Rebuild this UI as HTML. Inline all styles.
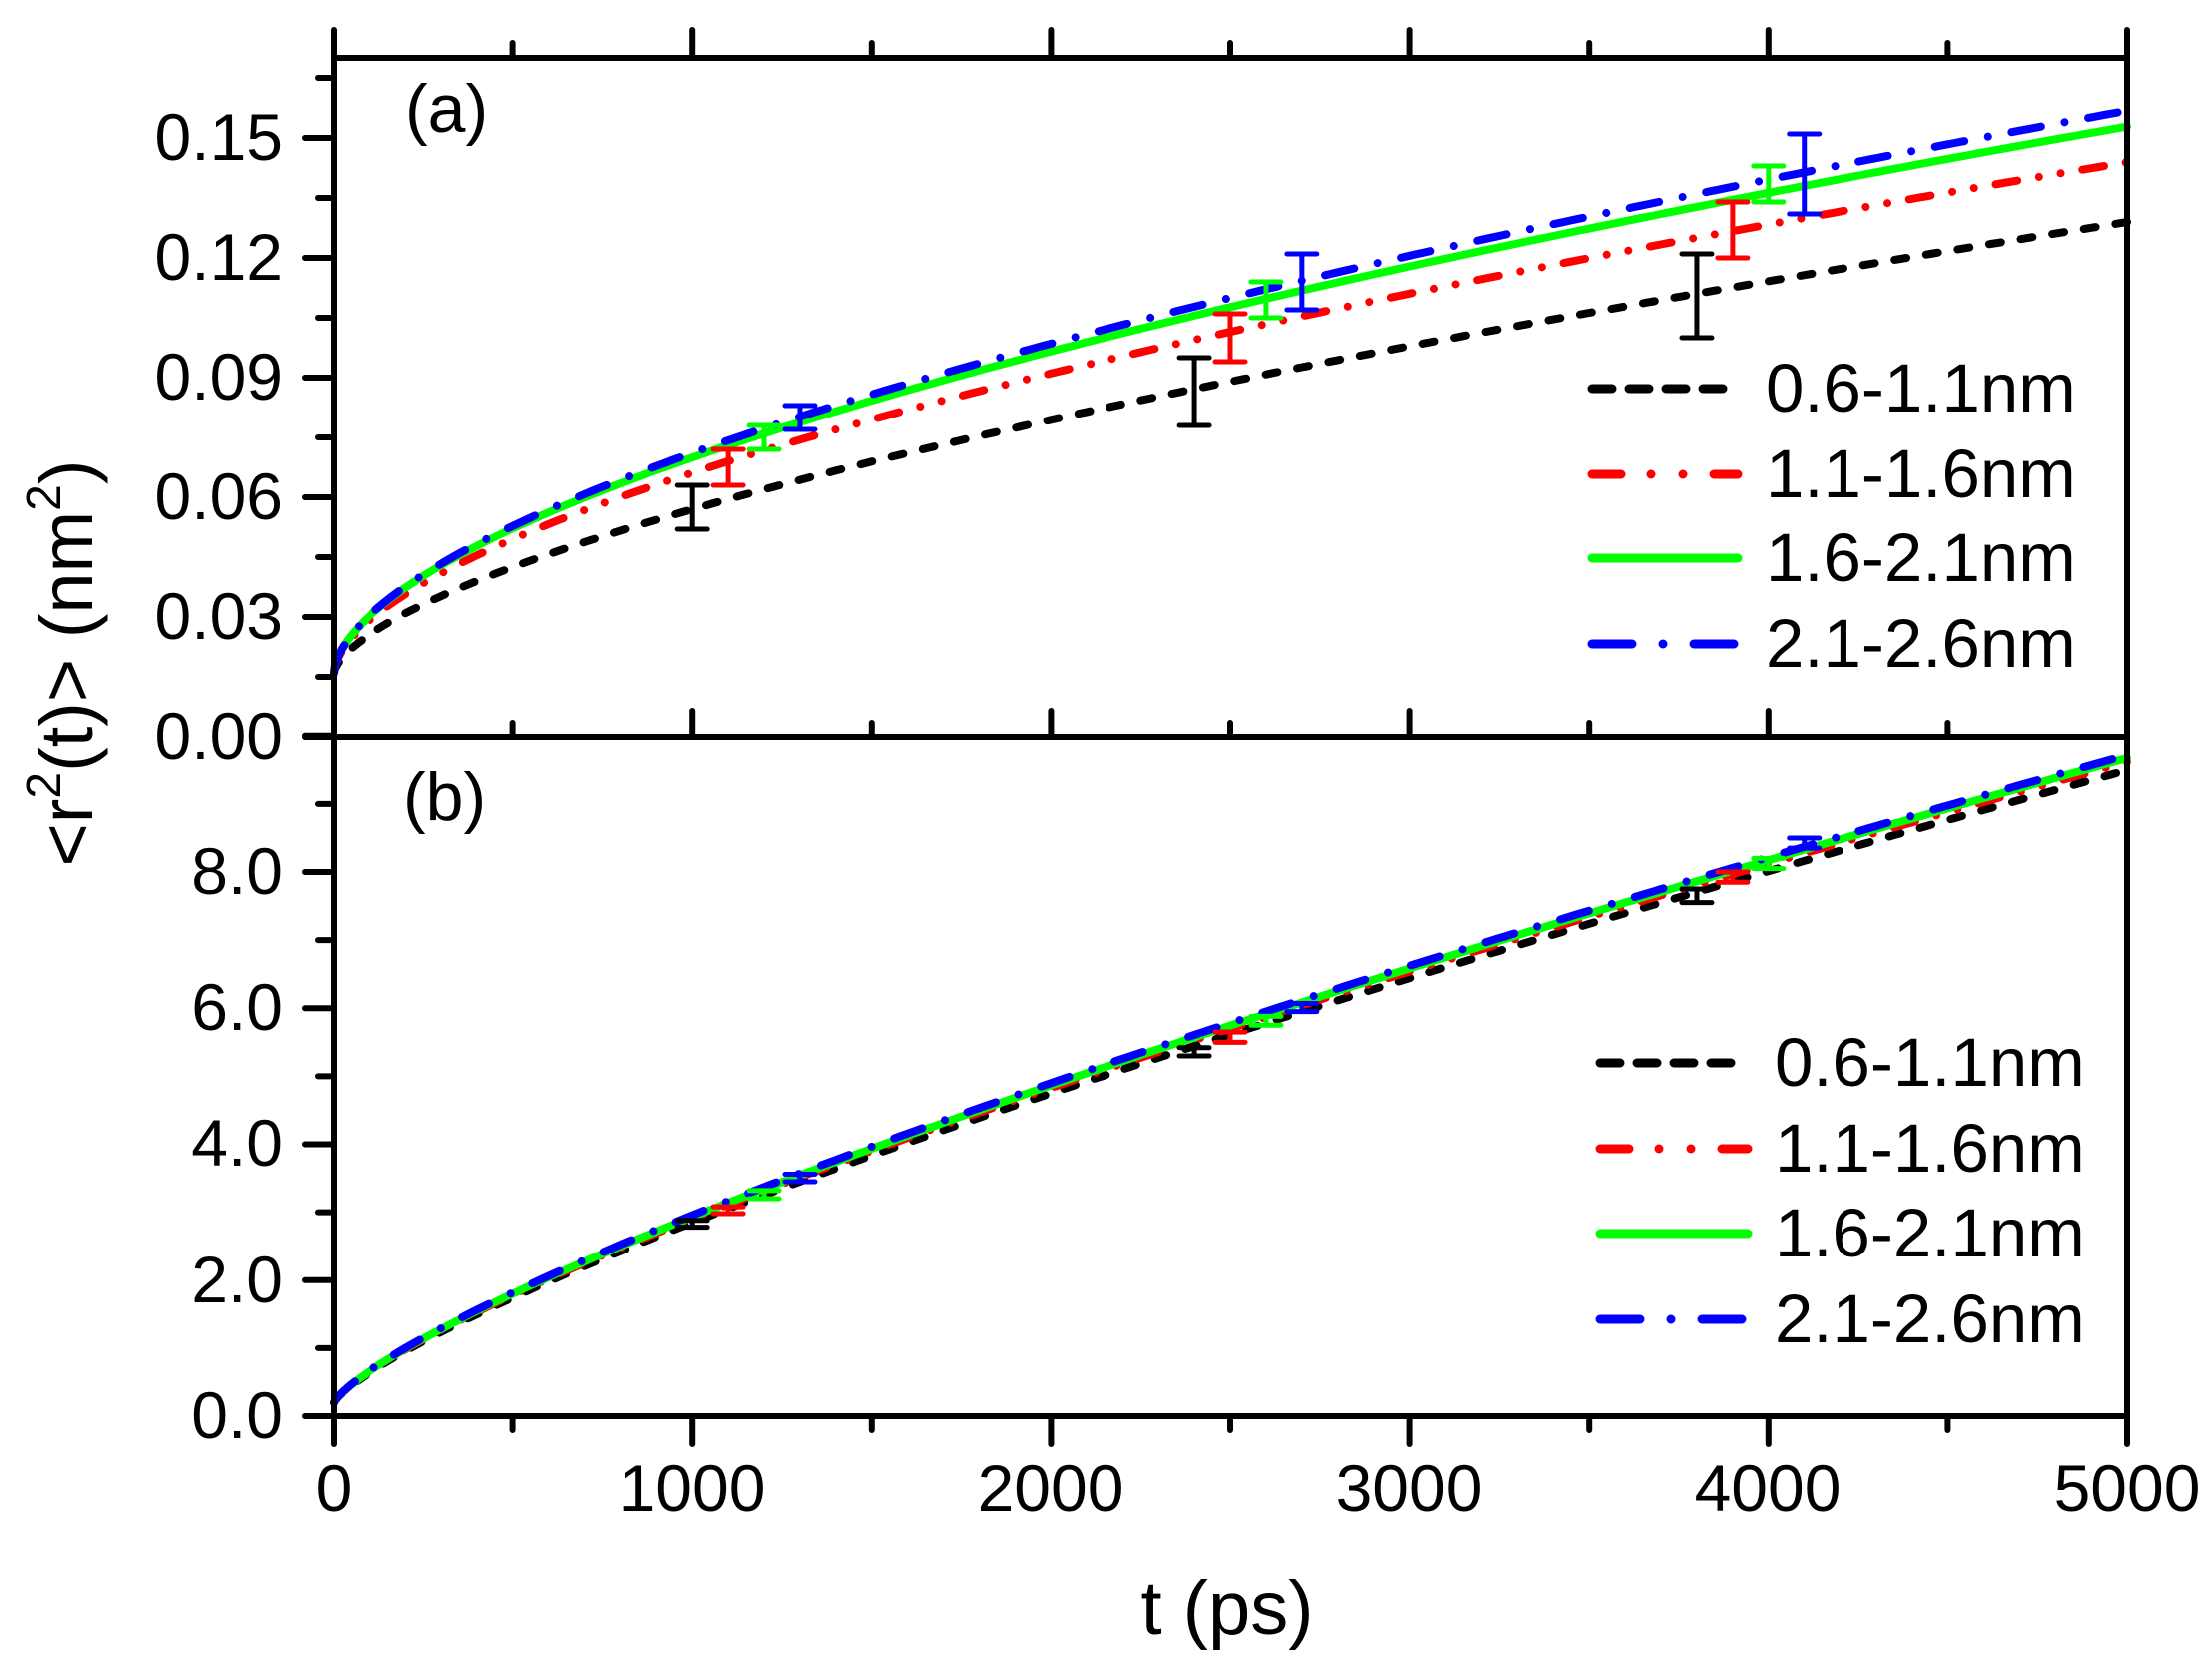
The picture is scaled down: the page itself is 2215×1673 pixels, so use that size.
<!DOCTYPE html>
<html><head><meta charset="utf-8"><style>
html,body{margin:0;padding:0;background:#fff;}
svg{display:block;}
text{font-family:"Liberation Sans",Arial,sans-serif;fill:#000;}
</style></head><body>
<svg id="s" width="2215" height="1673" viewBox="0 0 2215 1673" xmlns="http://www.w3.org/2000/svg">
<g id="curves"></g>
<g id="axes" stroke="#000" stroke-width="6" stroke-linecap="round" fill="none"></g>
<g font-size="66">
<text x="283" y="160" text-anchor="end">0.15</text>
<text x="283" y="280" text-anchor="end">0.12</text>
<text x="283" y="400" text-anchor="end">0.09</text>
<text x="283" y="520" text-anchor="end">0.06</text>
<text x="283" y="640" text-anchor="end">0.03</text>
<text x="283" y="760" text-anchor="end">0.00</text>
<text x="283" y="895" text-anchor="end">8.0</text>
<text x="283" y="1031" text-anchor="end">6.0</text>
<text x="283" y="1167" text-anchor="end">4.0</text>
<text x="283" y="1304" text-anchor="end">2.0</text>
<text x="283" y="1440" text-anchor="end">0.0</text>
<text x="334" y="1513" text-anchor="middle">0</text>
<text x="693" y="1513" text-anchor="middle">1000</text>
<text x="1052" y="1513" text-anchor="middle">2000</text>
<text x="1411" y="1513" text-anchor="middle">3000</text>
<text x="1770" y="1513" text-anchor="middle">4000</text>
<text x="2130" y="1513" text-anchor="middle">5000</text>
<text x="1229" y="1636" text-anchor="middle" font-size="76">t (ps)</text>
<text x="406" y="132" font-size="68">(a)</text>
<text x="404" y="821" font-size="68">(b)</text>
<g transform="translate(92,664) rotate(-90)"><text x="0" y="0" text-anchor="middle" font-size="74">&lt;r<tspan font-size="48" dy="-32">2</tspan><tspan dy="32">(t)&gt; (nm</tspan><tspan font-size="48" dy="-32">2</tspan><tspan dy="32">)</tspan></text></g>
<g font-size="69">
<text x="1768" y="412">0.6-1.1nm</text>
<text x="1768" y="498">1.1-1.6nm</text>
<text x="1768" y="582">1.6-2.1nm</text>
<text x="1768" y="668">2.1-2.6nm</text>
<text x="1777" y="1087">0.6-1.1nm</text>
<text x="1777" y="1173">1.1-1.6nm</text>
<text x="1777" y="1258">1.6-2.1nm</text>
<text x="1777" y="1344">2.1-2.6nm</text>
</g>
</g>
<g id="leg" stroke-width="9" stroke-linecap="round" fill="none"></g>
</svg>
<script>
var NS="http://www.w3.org/2000/svg";
function el(p,t,a){var e=document.createElementNS(NS,t);for(var k in a)e.setAttribute(k,a[k]);p.appendChild(e);return e;}
var X=function(t){return 334+t*0.35920;};
var YA=function(v){return 738-v/0.03*120;};
var YB=function(v){return 1418-v/2*136.25;};
var cols=["#000","#f00","#0f0","#00f"];
var dash=["12 20","22 22 0.01 22 0.01 22","","30 24 0.01 24"];
var A=[[0.016,5.28e-4,0.63],[0.016,9.0e-4,0.582],[0.016,9.96e-4,0.578],[0.016,9.82e-4,0.583]];
var B=[[0.2,0.01211,0.78],[0.2,0.0128,0.775],[0.2,0.0131,0.773],[0.2,0.0135,0.77]];
var cg=document.getElementById("curves");
function curve(par,Y,i){var d="";for(var t=0;t<=5000;t+=(t<100?2:20)){var v=par[0]+par[1]*Math.pow(t,par[2]);d+=(t?"L":"M")+X(t).toFixed(1)+","+Y(v).toFixed(1);}
var a={d:d,stroke:cols[i],"stroke-width":8,fill:"none","stroke-linecap":"round","stroke-linejoin":"round"};if(dash[i])a["stroke-dasharray"]=dash[i];el(cg,"path",a);}
var ebA=[[[1000,.052,.063],[2400,.078,.095],[3800,.100,.121]],[[1100,.063,.072],[2500,.094,.106],[3900,.120,.134]],[[1200,.072,.078],[2600,.105,.114],[4000,.134,.143]],[[1300,.077,.083],[2700,.107,.121],[4100,.131,.151]]];
var ebB=[[[1000,2.78,2.88],[2400,5.3,5.42],[3800,7.55,7.75]],[[1100,2.98,3.08],[2500,5.5,5.65],[3900,7.85,8.0]],[[1200,3.2,3.32],[2600,5.75,5.88],[4000,8.05,8.2]],[[1300,3.45,3.56],[2700,5.95,6.07],[4100,8.35,8.5]]];
function eb(list,Y,i){list.forEach(function(e){var x=X(e[0]),y1=Y(e[1]),y2=Y(e[2]);el(cg,"path",{d:"M"+x+","+y1+"V"+y2+"M"+(x-15)+","+y1+"h30M"+(x-15)+","+y2+"h30",stroke:cols[i],"stroke-width":5,fill:"none","stroke-linecap":"round"});});}
for(var i=0;i<4;i++){curve(A[i],YA,i);curve(B[i],YB,i);}
for(i=0;i<4;i++){eb(ebA[i],YA,i);eb(ebB[i],YB,i);}
var ax=document.getElementById("axes");
el(ax,"path",{d:"M334,58H2130V1418H334ZM334,738H2130","stroke-linejoin":"miter","stroke-linecap":"square"});
var d="";
for(var t=0;t<=5000;t+=500){var x=X(t),mj=(t%1000==0);
 d+="M"+x+",58V"+(mj?30:43);d+="M"+x+",738V"+(mj?712:724);d+="M"+x+",1418V"+(mj?1446:1432);}
for(var v=0;v<=0.17;v+=0.015){var y=YA(v),mj=Math.round(v/0.015)%2==0;d+="M334,"+y+"H"+(mj?305:318);}
for(v=0;v<=10.01;v+=1){y=YB(v);mj=(v%2==0);d+="M334,"+y+"H"+(mj?305:318);}
el(ax,"path",{d:d});
var lg=document.getElementById("leg");
var legDash=["20 17","29 30 0.01 32 0.01 31","","40 31 0.01 31"];
[389,475,559,645].forEach(function(y,i){var a={d:"M1594,"+y+"H1740",stroke:cols[i]};if(legDash[i])a["stroke-dasharray"]=legDash[i];el(lg,"path",a);});
[1064,1150,1235,1321].forEach(function(y,i){var a={d:"M1602,"+y+"H1750",stroke:cols[i]};if(legDash[i])a["stroke-dasharray"]=legDash[i];el(lg,"path",a);});
</script>
</body></html>
